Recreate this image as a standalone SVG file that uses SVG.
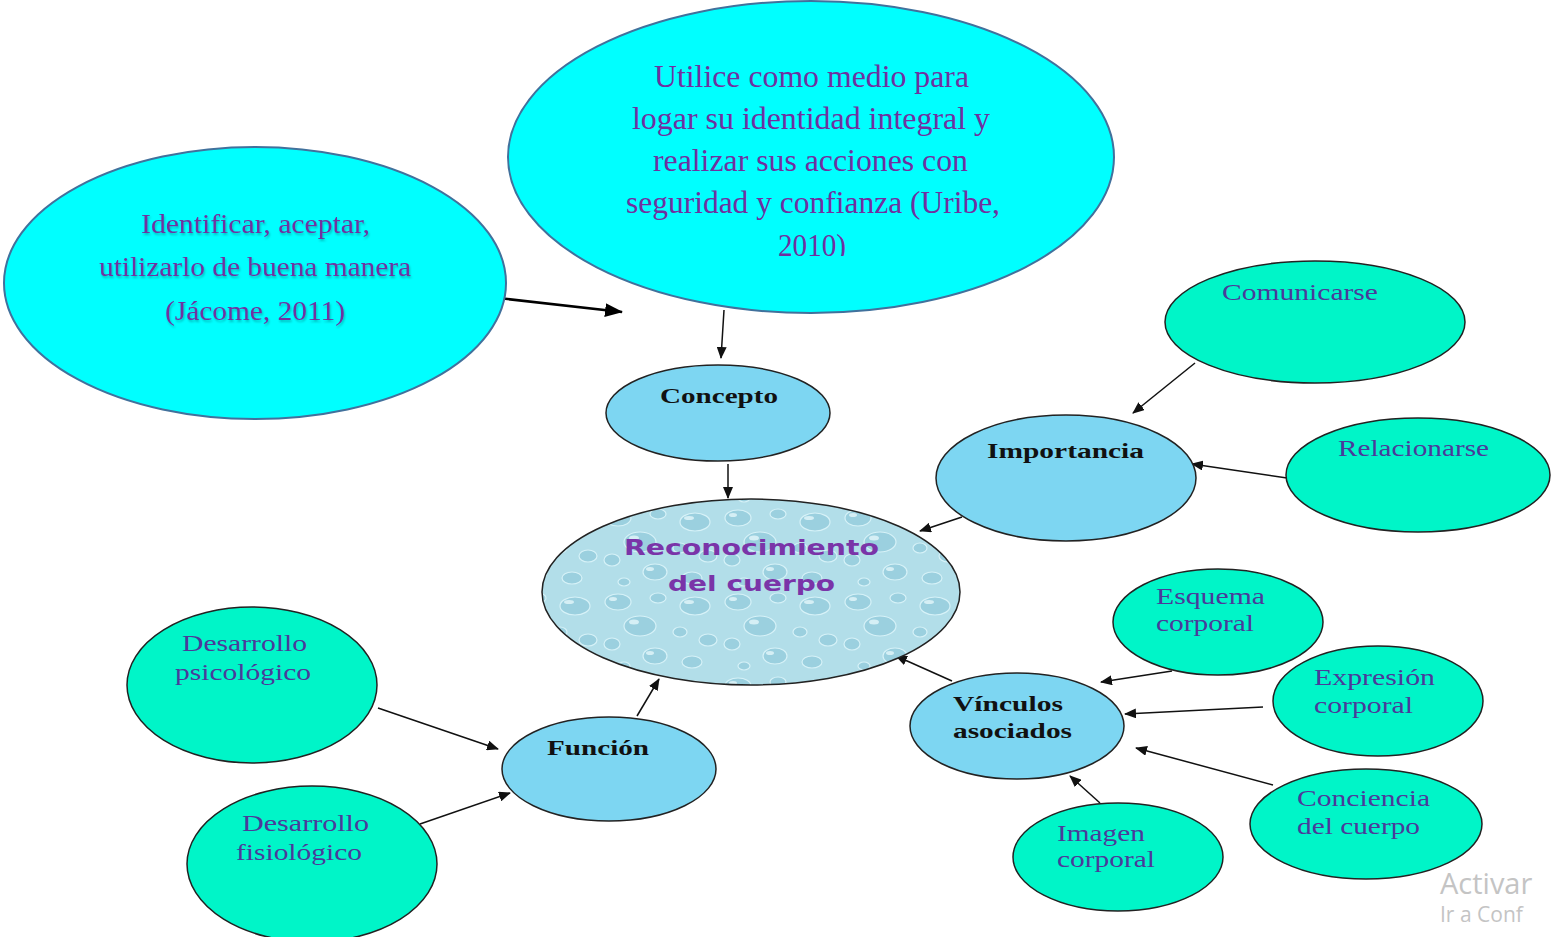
<svg xmlns="http://www.w3.org/2000/svg" width="1551" height="937" viewBox="0 0 1551 937">
<defs>
<style>
.cyan{fill:#00FFFF;stroke:#41719C;stroke-width:2}
.blue{fill:#7DD6F2;stroke:#222;stroke-width:1.5}
.green{fill:#00F5C8;stroke:#222;stroke-width:1.5}
.tq{font-family:"Liberation Serif",serif;fill:#7030A0}
.tg{font-family:"Liberation Serif",serif;font-size:24px;fill:#4B3A9A}
.tb{font-family:"Liberation Serif",serif;font-size:22px;font-weight:bold;fill:#111}
.tr{font-family:"DejaVu Sans",sans-serif;font-size:21px;font-weight:bold;fill:#7A34A8}
.wm{font-family:"Open Sans",sans-serif;fill:#C4C4C4}
.c{stroke:#111;stroke-width:1.5;fill:none;marker-end:url(#ah)}
</style>
<marker id="ah" markerWidth="12" markerHeight="10" refX="11" refY="5" orient="auto" markerUnits="userSpaceOnUse">
<path d="M0,0 L12,5 L0,10 Z" fill="#111"/>
</marker>
<marker id="ahb" markerWidth="18" markerHeight="14" refX="17" refY="7" orient="auto" markerUnits="userSpaceOnUse">
<path d="M0,0 L18,7 L0,14 Z" fill="#000"/>
</marker>
<pattern id="water" width="120" height="84" patternUnits="userSpaceOnUse">
<rect width="120" height="84" fill="#B2DEE9"/>
<g fill="#9BD0DF" stroke="#D6F2F8" stroke-width="1.2">
<ellipse cx="18" cy="14" rx="13" ry="8"/>
<ellipse cx="58" cy="10" rx="8" ry="5"/>
<ellipse cx="95" cy="18" rx="15" ry="9"/>
<ellipse cx="40" cy="38" rx="16" ry="10"/>
<ellipse cx="80" cy="44" rx="7" ry="5"/>
<ellipse cx="108" cy="52" rx="9" ry="6"/>
<ellipse cx="12" cy="56" rx="8" ry="6"/>
<ellipse cx="55" cy="68" rx="12" ry="8"/>
<ellipse cx="92" cy="74" rx="10" ry="6"/>
<ellipse cx="24" cy="78" rx="6" ry="4"/>
</g>
<g fill="#E4F6FA" opacity="0.8">
<ellipse cx="13" cy="11" rx="4" ry="2"/>
<ellipse cx="89" cy="14" rx="5" ry="2"/>
<ellipse cx="34" cy="34" rx="5" ry="2.5"/>
<ellipse cx="50" cy="65" rx="4" ry="2"/>
</g>
</pattern>
<clipPath id="clipTop"><rect x="500" y="0" width="620" height="256"/></clipPath>
<filter id="sh" x="-5%" y="-20%" width="110%" height="140%">
<feDropShadow dx="1" dy="2" stdDeviation="1" flood-color="#000" flood-opacity="0.25"/>
</filter>
</defs>

<g id="connectors">
<line x1="498" y1="298" x2="622" y2="312" stroke="#000" stroke-width="2.5" marker-end="url(#ahb)"/>
<line class="c" x1="724" y1="310" x2="721" y2="358"/>
<line class="c" x1="728" y1="464" x2="728" y2="498"/>
<line class="c" x1="1195" y1="363" x2="1133" y2="413"/>
<line class="c" x1="1287" y1="478" x2="1192" y2="464"/>
<line class="c" x1="962" y1="517" x2="920" y2="531"/>
<line class="c" x1="952" y1="681" x2="896" y2="656"/>
<line class="c" x1="1172" y1="671" x2="1101" y2="682"/>
<line class="c" x1="1263" y1="707" x2="1125" y2="714"/>
<line class="c" x1="1273" y1="785" x2="1136" y2="748"/>
<line class="c" x1="1100" y1="803" x2="1070" y2="776"/>
<line class="c" x1="378" y1="708" x2="498" y2="749"/>
<line class="c" x1="420" y1="824" x2="510" y2="793"/>
<line class="c" x1="637" y1="716" x2="659" y2="679"/>
</g>

<g id="n-utilice">
<ellipse class="cyan" cx="811" cy="157" rx="303" ry="156"/>
<g clip-path="url(#clipTop)" class="tq" font-size="31">
<text x="654" y="87" textLength="315" lengthAdjust="spacingAndGlyphs">Utilice como medio para</text>
<text x="632" y="129" textLength="358" lengthAdjust="spacingAndGlyphs">logar su identidad integral y</text>
<text x="653" y="171" textLength="315" lengthAdjust="spacingAndGlyphs">realizar sus acciones con</text>
<text x="626" y="213" textLength="374" lengthAdjust="spacingAndGlyphs">seguridad y confianza (Uribe,</text>
<text x="778" y="256" textLength="68" lengthAdjust="spacingAndGlyphs">2010)</text>
</g>
</g>

<g id="n-identificar">
<ellipse class="cyan" cx="255" cy="283" rx="251" ry="136"/>
<g class="tq" font-size="28" filter="url(#sh)">
<text x="141" y="233" textLength="229" lengthAdjust="spacingAndGlyphs">Identificar, aceptar,</text>
<text x="99" y="276" textLength="312" lengthAdjust="spacingAndGlyphs">utilizarlo de buena manera</text>
<text x="165" y="320" textLength="180" lengthAdjust="spacingAndGlyphs">(Jácome, 2011)</text>
</g>
</g>

<g id="n-concepto">
<ellipse class="blue" cx="718" cy="413" rx="112" ry="48"/>
<text class="tb" x="660" y="403" textLength="118" lengthAdjust="spacingAndGlyphs">Concepto</text>
</g>

<g id="n-reconocimiento">
<ellipse cx="751" cy="592" rx="209" ry="93" fill="url(#water)" stroke="#222" stroke-width="1.5"/>
<text class="tr" x="624" y="555" textLength="255" lengthAdjust="spacingAndGlyphs">Reconocimiento</text>
<text class="tr" x="668" y="591" textLength="167" lengthAdjust="spacingAndGlyphs">del cuerpo</text>
</g>

<g id="n-importancia">
<ellipse class="blue" cx="1066" cy="478" rx="130" ry="63"/>
<text class="tb" x="987" y="458" textLength="157" lengthAdjust="spacingAndGlyphs">Importancia</text>
</g>

<g id="n-comunicarse">
<ellipse class="green" cx="1315" cy="322" rx="150" ry="61"/>
<text class="tg" x="1222" y="300" textLength="156" lengthAdjust="spacingAndGlyphs">Comunicarse</text>
</g>

<g id="n-relacionarse">
<ellipse class="green" cx="1418" cy="475" rx="132" ry="57"/>
<text class="tg" x="1338" y="456" textLength="151" lengthAdjust="spacingAndGlyphs">Relacionarse</text>
</g>

<g id="n-vinculos">
<ellipse class="blue" cx="1017" cy="726" rx="107" ry="53"/>
<text class="tb" x="953" y="711" textLength="110" lengthAdjust="spacingAndGlyphs">Vínculos</text>
<text class="tb" x="953" y="738" textLength="119" lengthAdjust="spacingAndGlyphs">asociados</text>
</g>

<g id="n-esquema">
<ellipse class="green" cx="1218" cy="622" rx="105" ry="53"/>
<text class="tg" x="1156" y="604" textLength="109" lengthAdjust="spacingAndGlyphs">Esquema</text>
<text class="tg" x="1156" y="631" textLength="98" lengthAdjust="spacingAndGlyphs">corporal</text>
</g>

<g id="n-expresion">
<ellipse class="green" cx="1378" cy="701" rx="105" ry="55"/>
<text class="tg" x="1314" y="685" textLength="121" lengthAdjust="spacingAndGlyphs">Expresión</text>
<text class="tg" x="1314" y="713" textLength="99" lengthAdjust="spacingAndGlyphs">corporal</text>
</g>

<g id="n-conciencia">
<ellipse class="green" cx="1366" cy="824" rx="116" ry="55"/>
<text class="tg" x="1297" y="806" textLength="133" lengthAdjust="spacingAndGlyphs">Conciencia</text>
<text class="tg" x="1297" y="834" textLength="123" lengthAdjust="spacingAndGlyphs">del cuerpo</text>
</g>

<g id="n-imagen">
<ellipse class="green" cx="1118" cy="857" rx="105" ry="54"/>
<text class="tg" x="1057" y="841" textLength="88" lengthAdjust="spacingAndGlyphs">Imagen</text>
<text class="tg" x="1057" y="867" textLength="98" lengthAdjust="spacingAndGlyphs">corporal</text>
</g>

<g id="n-funcion">
<ellipse class="blue" cx="609" cy="769" rx="107" ry="52"/>
<text class="tb" x="547" y="755" textLength="102" lengthAdjust="spacingAndGlyphs">Función</text>
</g>

<g id="n-psicologico">
<ellipse class="green" cx="252" cy="685" rx="125" ry="78"/>
<text class="tg" x="182" y="651" textLength="125" lengthAdjust="spacingAndGlyphs">Desarrollo</text>
<text class="tg" x="175" y="680" textLength="136" lengthAdjust="spacingAndGlyphs">psicológico</text>
</g>

<g id="n-fisiologico">
<ellipse class="green" cx="312" cy="864" rx="125" ry="78"/>
<text class="tg" x="242" y="831" textLength="127" lengthAdjust="spacingAndGlyphs">Desarrollo</text>
<text class="tg" x="236" y="860" textLength="126" lengthAdjust="spacingAndGlyphs">fisiológico</text>
</g>

<g id="watermark">
<text class="wm" x="1440" y="894" font-size="29">Activar</text>
<text class="wm" x="1440" y="922" font-size="21">Ir a Conf</text>
</g>
</svg>
